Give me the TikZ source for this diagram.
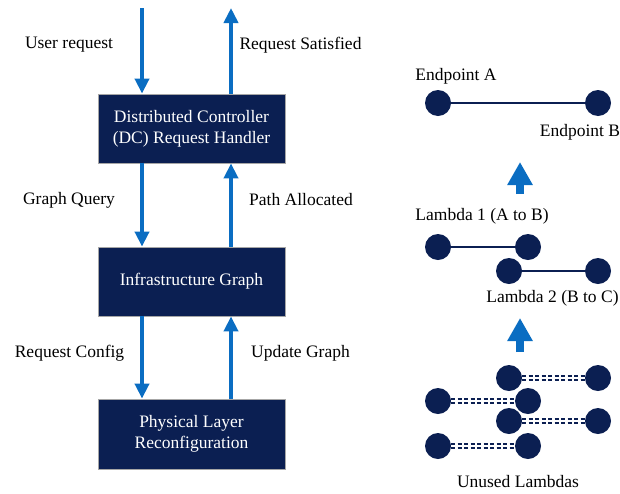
\documentclass[tikz,border=0pt]{standalone}
\usepackage{fontspec}
\setmainfont{Liberation Serif}
\usetikzlibrary{arrows.meta,calc}
\definecolor{navy}{HTML}{0B1F52}
\definecolor{flowblue}{HTML}{0A6DC2}
\begin{document}
\begin{tikzpicture}[x=1pt,y=-1pt,
  box/.style={rectangle,fill=navy,draw=gray!70,line width=0.8pt,minimum width=187pt,text=white,align=center,font=\fontsize{17.5}{21}\selectfont,inner sep=0pt},
  lbl/.style={font=\fontsize{17.5}{21}\selectfont,inner sep=0pt,text=black},
  flow/.style={draw=flowblue,line width=4pt,-{Triangle[width=14pt,length=15pt]}},
  bigup/.style={draw=flowblue,line width=8pt,-{Triangle[width=24pt,length=23pt]}},
  dot/.style={circle,fill=navy,minimum size=26pt,inner sep=0pt},
  used/.style={draw=navy,line width=2.6pt},
  unused/.style={draw=navy,line width=1.8pt,dash pattern=on 4pt off 2.5pt}
]
\useasboundingbox (0,0) rectangle (620,493);
% boxes
\node[box,minimum height=69pt] (b1) at (191.5,128.5) {Distributed Controller\\(DC) Request Handler};
\node[box,minimum height=69pt] (b2) at (191.5,281.5) {Infrastructure Graph};
\node[box,minimum height=70pt] (b3) at (191.5,434) {Physical Layer\\Reconfiguration};
\coordinate (in) at (142,8);
\coordinate (out) at (231,8);
% arrows
\draw[flow] (in) -- (in |- b1.north);
\draw[flow] (b1.north -| out) -- (out);
\draw[flow] (b1.south -| in) -- (in |- b2.north);
\draw[flow] (b2.north -| out) -- (out |- b1.south);
\draw[flow] (b2.south -| in) -- (in |- b3.north);
\draw[flow] (b3.north -| out) -- (out |- b2.south);
% labels
\node[lbl] (l1) at (69,45) {User request};
\node[lbl] (l2) at (300.5,45) {Request Satisfied};
\node[lbl] (l3) at (69,200) {Graph Query};
\node[lbl] (l4) at (301,200) {Path Allocated};
\node[lbl] (l5) at (69.5,353) {Request Config};
\node[lbl] (l6) at (300.5,353) {Update Graph};
% right side: endpoints
\node[lbl] (ea) at (456,76) {Endpoint A};
\node[lbl] (eb) at (580,132) {Endpoint B};
\node[dot] (pa) at (438,103) {};
\node[dot] (pb) at (598,103) {};
\draw[used] (pa) -- (pb);
\coordinate (ar1s) at (520,194);
\coordinate (ar1e) at (520,162);
\draw[bigup] (ar1s) -- (ar1e);
% lambdas
\node[lbl] (la1) at (482,216) {Lambda 1 (A to B)};
\node[dot] (l1a) at (438,247) {};
\node[dot] (l1b) at (528,247) {};
\draw[used] (l1a) -- (l1b);
\node[dot] (l2a) at (509,271) {};
\node[dot] (l2b) at (598,271) {};
\draw[used] (l2a) -- (l2b);
\node[lbl] (la2) at (552.5,298) {Lambda 2 (B to C)};
\coordinate (ar2s) at (520,352);
\coordinate (ar2e) at (520,318);
\draw[bigup] (ar2s) -- (ar2e);
% unused
\node[dot] (u1a) at (509,378) {};
\node[dot] (u1b) at (598,378) {};
\node[dot] (u3a) at (509,421) {};
\node[dot] (u3b) at (598,421) {};
\node[dot] (u2a) at (438,401) {};
\node[dot] (u2b) at (528,401) {};
\node[dot] (u4a) at (438,446) {};
\node[dot] (u4b) at (528,446) {};
\foreach \a/\b in {u1a/u1b,u2a/u2b,u3a/u3b,u4a/u4b}{
  \draw[unused] ([yshift=-2.2pt]\a.east) -- ([yshift=-2.2pt]\b.west);
  \draw[unused] ([yshift=2.2pt]\a.east) -- ([yshift=2.2pt]\b.west);
}
\node[lbl] (ul) at (518,482) {Unused Lambdas};
\end{tikzpicture}
\end{document}
